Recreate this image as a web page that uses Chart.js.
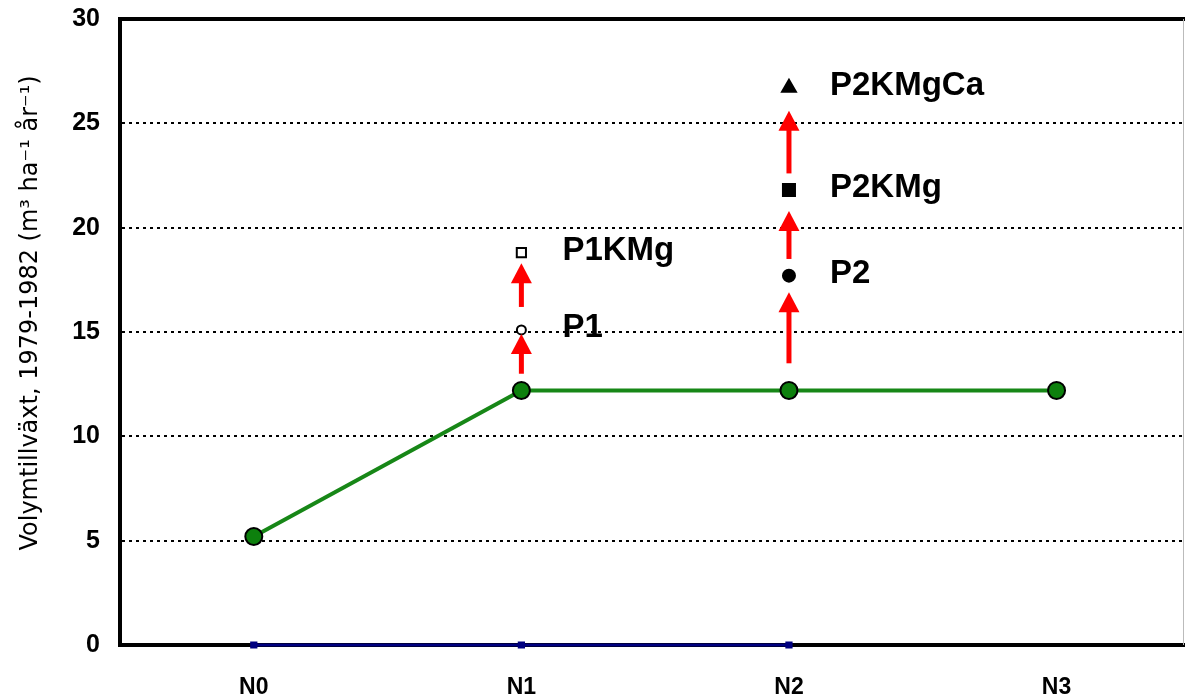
<!DOCTYPE html>
<html>
<head>
<meta charset="utf-8">
<script src="https://cdn.jsdelivr.net/npm/chart.js@4"></script>
<style>
  html, body { margin: 0; padding: 0; background: #fff; overflow: hidden; }
  #wrap { width: 1185px; height: 697px; position: relative; }
</style>
</head>
<body>
<div id="wrap"><canvas id="chart"></canvas></div>
<script>
// Data
const categories = ['N0', 'N1', 'N2', 'N3'];
const baseY = [5.2, 12.2, 12.2, 12.2];
const zeroY = [0, 0, 0];
const treatNames = ['P1', 'P1KMg', 'P2', 'P2KMg', 'P2KMgCa'];
const treatX = [1, 1, 2, 2, 2];
const treatY = [15.1, 18.8, 17.7, 21.8, 26.7];
const arrowX = [1, 1, 2, 2, 2];
const arrowFrom = [13.0, 16.2, 13.5, 18.5, 22.6];
const arrowTo = [14.9, 18.3, 16.9, 20.8, 25.6];
const yTicks = [0, 5, 10, 15, 20, 25, 30];

// marker styles for the treatments
const treatStyle = ['circle', 'rect', 'circle', 'rect', 'triangle'];
const treatFill = ['#fff', '#fff', '#000', '#000', '#000'];
const treatRadius = [4.5, 6.5, 6, 8.5, 8];

// Frame: thick top border + thin right edge
const framePlugin = {
    id: 'frame',
    afterDraw(chart) {
        const { ctx, chartArea: a } = chart;
        ctx.save();
        ctx.strokeStyle = '#000';
        ctx.lineWidth = 4;
        ctx.beginPath();
        ctx.moveTo(a.left - 2, a.top);
        ctx.lineTo(a.right, a.top);
        ctx.stroke();
        ctx.strokeStyle = '#bbb';
        ctx.lineWidth = 1;
        ctx.beginPath();
        ctx.moveTo(a.right - 1.5, a.top);
        ctx.lineTo(a.right - 1.5, a.bottom);
        ctx.stroke();
        ctx.restore();
    }
};

// Red arrows and treatment labels
const annotPlugin = {
    id: 'annot',
    afterDatasetsDraw(chart) {
        const { ctx } = chart;
        const xs = chart.scales.x, ys = chart.scales.y;
        ctx.save();
        ctx.strokeStyle = '#ff0000';
        ctx.fillStyle = '#ff0000';
        ctx.lineWidth = 5;
        arrowX.forEach((xv, i) => {
            const x = xs.getPixelForValue(xv);
            const y0 = ys.getPixelForValue(arrowFrom[i]);
            const y1 = ys.getPixelForValue(arrowTo[i]);
            const head = 20;
            ctx.beginPath();
            ctx.moveTo(x, y0);
            ctx.lineTo(x, y1 + head - 2);
            ctx.stroke();
            ctx.beginPath();
            ctx.moveTo(x, y1);
            ctx.lineTo(x - 10.5, y1 + head);
            ctx.lineTo(x + 10.5, y1 + head);
            ctx.closePath();
            ctx.fill();
        });
        ctx.fillStyle = '#000';
        ctx.font = 'bold 33px "Liberation Sans", Arial, sans-serif';
        ctx.textBaseline = 'middle';
        treatNames.forEach((name, i) => {
            const x = xs.getPixelForValue(treatX[i]);
            const y = ys.getPixelForValue(treatY[i]);
            ctx.fillText(name, x + 41, y - 2);
        });
        ctx.restore();
    }
};

const ctx = document.getElementById('chart').getContext('2d');
const chart = new Chart(ctx, {
    type: 'line',
    data: {
        datasets: [
            {
                label: 'N',
                data: baseY.map((v, i) => ({ x: i, y: v })),
                borderColor: '#178717',
                borderWidth: 4,
                pointBackgroundColor: '#0d800d',
                pointBorderColor: '#000',
                pointBorderWidth: 2,
                pointRadius: 8.5,
                clip: false,
                order: 1
            },
            {
                label: 'zero',
                data: zeroY.map((v, i) => ({ x: i, y: v })),
                borderColor: '#000080',
                borderWidth: 3,
                pointStyle: 'rect',
                pointBackgroundColor: '#000080',
                pointBorderColor: '#000080',
                pointRadius: 3,
                clip: false,
                order: 2
            },
            {
                label: 'treatments',
                data: treatY.map((v, i) => ({ x: treatX[i], y: v })),
                showLine: false,
                pointStyle: treatStyle,
                pointBackgroundColor: treatFill,
                pointBorderColor: '#000',
                pointBorderWidth: 2,
                pointRadius: treatRadius,
                clip: false,
                order: 0
            }
        ]
    },
    options: {
        responsive: true,
        maintainAspectRatio: false,
        animation: false,
        layout: { autoPadding: false, padding: { top: 19, right: 0, left: 0, bottom: 0 } },
        plugins: {
            legend: { display: false },
            tooltip: { enabled: false }
        },
        scales: {
            x: {
                type: 'linear',
                min: -0.5,
                max: 3.48,
                afterBuildTicks: s => { s.ticks = categories.map((c, i) => ({ value: i })); },
                afterFit: s => { s.height = 52; s.paddingLeft = 0; s.paddingRight = 0; },
                ticks: {
                    callback: v => categories[v],
                    color: '#000',
                    font: { family: '"Liberation Sans", Arial, sans-serif', size: 23, weight: 'bold' },
                    padding: 29,
                    maxRotation: 0
                },
                grid: { display: false, drawTicks: false },
                border: { display: true, color: '#000', width: 4 }
            },
            y: {
                min: 0,
                max: 30,
                afterBuildTicks: s => { s.ticks = yTicks.map(v => ({ value: v })); },
                afterFit: s => { s.width = 120; s.paddingTop = 0; s.paddingBottom = 0; },
                ticks: {
                    color: '#000',
                    font: { family: '"Liberation Sans", Arial, sans-serif', size: 25, weight: 'bold' },
                    padding: 20
                },
                grid: {
                    drawTicks: false,
                    lineWidth: 2,
                    color: c => (c.tick && (c.tick.value === 0 || c.tick.value === 30)) ? 'rgba(0,0,0,0)' : '#000'
                },
                border: { display: true, color: '#000', width: 4, dash: [3, 4] },
                title: {
                    display: true,
                    text: '     Volymtillväxt, 1979-1982 (m³ ha⁻¹ år⁻¹)',
                    color: '#000',
                    font: { family: '"DejaVu Sans", sans-serif', size: 24 },
                    padding: { top: 16, bottom: 0 }
                }
            }
        }
    },
    plugins: [framePlugin, annotPlugin]
});
</script>
</body>
</html>
